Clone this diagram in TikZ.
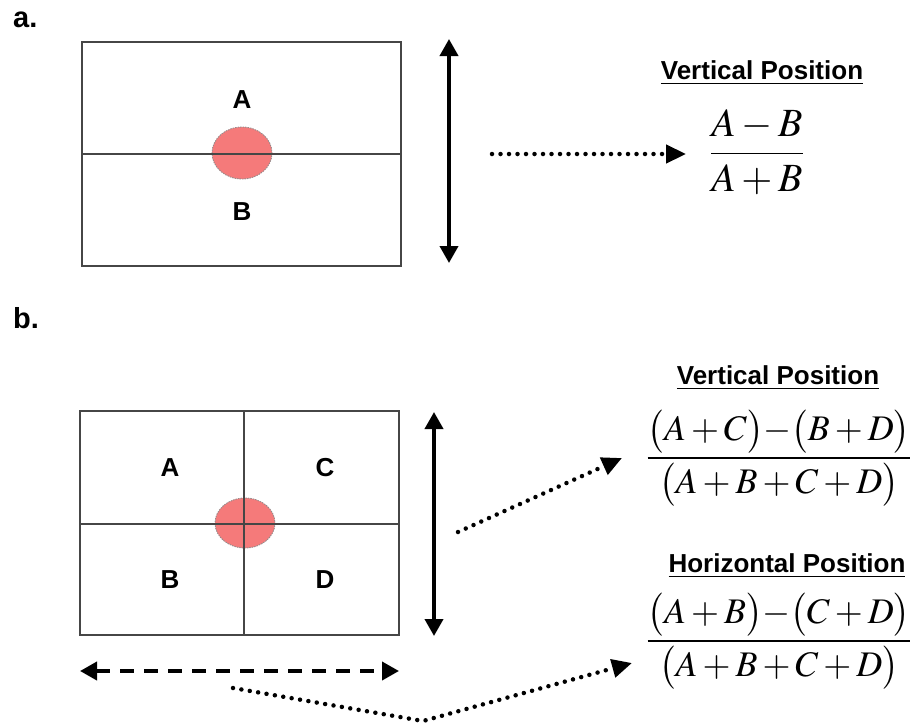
\documentclass[tikz,border=0pt]{standalone}
\usepackage{mathptmx}
\usepackage{fontspec}
\newfontfamily\arialfont{Liberation Sans}
\usetikzlibrary{arrows.meta,positioning,calc}
\definecolor{spotred}{RGB}{245,122,122}
\definecolor{gridgray}{RGB}{70,70,70}
\definecolor{rimgray}{RGB}{150,140,140}

\tikzset{
  cell/.style={font=\arialfont\bfseries\fontsize{26}{28}\selectfont},
  panel/.style={font=\arialfont\bfseries\fontsize{29}{31}\selectfont,anchor=base west,inner sep=0pt},
  heading/.style={font=\arialfont\bfseries\fontsize{26}{28}\selectfont,inner sep=0pt},
  ratio/.style={font=\fontsize{40}{44}\selectfont,inner sep=0pt},
  ratiowide/.style={font=\fontsize{36}{39}\selectfont,inner sep=0pt},
  gridline/.style={draw=gridgray,line width=1.3pt},
  spot/.style={fill=spotred,draw=rimgray,dash pattern=on 1.5pt off 1pt,line width=0.9pt},
  sweep/.style={line width=3.8pt,{Triangle[length=17pt,width=18pt]}-{Triangle[length=17pt,width=18pt]}},
  sweepdash/.style={sweep,dash pattern=on 14pt off 10pt},
  pointer/.style={line width=4.5pt,line cap=round,dash pattern=on 0pt off 8.5pt,-{Triangle[length=20pt,width=18pt]}}
}

\begin{document}
\begin{tikzpicture}[x=1pt,y=-1pt]
\useasboundingbox (0,0) rectangle (915,723);

% panel a
\node[panel] (taga) at (13,27) {a.};
\draw[spot] (242,153) ellipse [x radius=30,y radius=26];
\draw[gridline] (82,42) rectangle (401,266) (82,154) -- (401,154);
\node[cell] (cellaA) at (242,100) {A};
\node[cell] (cellaB) at (242,212) {B};
\coordinate (aup) at (449,39);
\coordinate (adown) at (449,263);
\draw[sweep] (aup) -- (adown);

\node[heading] (headav) at (762,73) {\underline{Vertical Position}};
\node[ratio] (fraca) at (757,152) {$\displaystyle\frac{A-B}{A+B}$};
\coordinate (ptra) at (492,154);
\coordinate (tipa) at (686,154);
\draw[pointer] (ptra) -- (tipa);

% panel b
\node[panel] (tagb) at (13,328) {b.};
\draw[spot] (245,523) ellipse [x radius=30,y radius=25];
\draw[gridline] (80,411) rectangle (399,635) (80,524) -- (399,524) (244,411) -- (244,635);
\foreach \lbl/\x/\y in {A/170/468,C/325/468,B/170/580,D/325/580}{
  \node[cell] (cellb\lbl) at (\x,\y) {\lbl};
}
\coordinate (bup) at (434,412);
\coordinate (bdown) at (434,636);
\draw[sweep] (bup) -- (bdown);
\coordinate (bleft) at (80,671);
\coordinate (bright) at (399,671);
\draw[sweepdash] (bleft) -- (bright);

\node[heading] (headbv) at (778,378) {\underline{Vertical Position}};
\node[ratiowide] (fracbv) at (779,458)
  {$\displaystyle\frac{\bigl(A+C\bigr){-}\bigl(B+D\bigr)}{\bigl(A+B+C+D\bigr)}$};
\node[heading] (headbh) at (787,566) {\underline{Horizontal Position}};
\node[ratiowide] (fracbh) at (779,641)
  {$\displaystyle\frac{\bigl(A+B\bigr){-}\bigl(C+D\bigr)}{\bigl(A+B+C+D\bigr)}$};

\coordinate (ptrbv) at (458,532);
\coordinate (tipbv) at (622,458);
\draw[pointer] (ptrbv) -- (tipbv);
\coordinate (ptrbh) at (233,688);
\coordinate (bendbh) at (423,721);
\coordinate (tipbh) at (632,663);
\draw[pointer] (ptrbh) -- (bendbh) -- (tipbh);
\end{tikzpicture}
\end{document}
